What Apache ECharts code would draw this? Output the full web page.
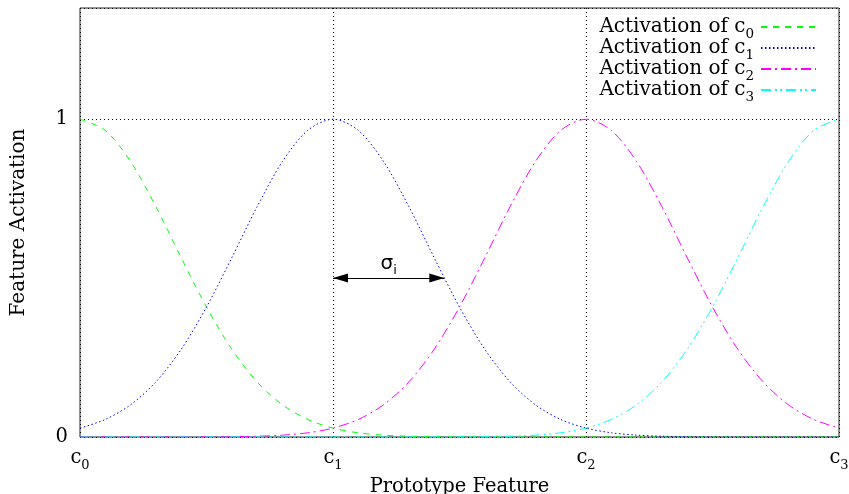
<!DOCTYPE html>
<html>
<head>
<meta charset="utf-8">
<script src="https://cdn.jsdelivr.net/npm/echarts@6/dist/echarts.min.js"></script>
<style>html,body{margin:0;padding:0;background:#fff}#c{width:849px;height:494px}</style>
</head>
<body>
<div id="c"></div>
<script>
// sample positions along the prototype-feature axis
const xs = [0,0.1,0.2,0.3,0.4,0.5,0.6,0.7,0.8,0.9,1,1.1,1.2,1.3,1.4,1.5,1.6,1.7,1.8,1.9,2,2.1,2.2,2.3,2.4,2.5,2.6,2.7,2.8,2.9,3];
const act0 = [1,.9649,.8667,.7248,.5643,.4090,.2760,.1734,.1014,.0552,.0280,.0132,.0058,.0024,.0009,.0003,.0001,0,0,0,0,0,0,0,0,0,0,0,0,0,0];
const act1 = [.0280,.0552,.1014,.1734,.2760,.4090,.5643,.7248,.8667,.9649,1,.9649,.8667,.7248,.5643,.4090,.2760,.1734,.1014,.0552,.0280,.0132,.0058,.0024,.0009,.0003,.0001,0,0,0,0];
const act2 = [0,0,0,0,.0001,.0003,.0009,.0024,.0058,.0132,.0280,.0552,.1014,.1734,.2760,.4090,.5643,.7248,.8667,.9649,1,.9649,.8667,.7248,.5643,.4090,.2760,.1734,.1014,.0552,.0280];
const act3 = [0,0,0,0,0,0,0,0,0,0,0,0,0,0,.0001,.0003,.0009,.0024,.0058,.0132,.0280,.0552,.1014,.1734,.2760,.4090,.5643,.7248,.8667,.9649,1];
const xTickLabels = ['0','1','2','3'];   // subscripts of c
const yTickLabels = ['0','1'];
const seriesNames = ['Activation of c0','Activation of c1','Activation of c2','Activation of c3'];
const sigmaFrom = [1, 0.5];
const sigmaTo = [1.44, 0.5];

const SERIF = '"DejaVu Serif", serif';
const colors = ['#00ff00','#0000ff','#ff00ff','#00ffff'];
const dashes = [[6,6],[1.5,2.5],[10,4,2,4],[10,4,2,3,2,4]];
const values = [act0, act1, act2, act3];

const subRich = {
  n: {fontFamily: SERIF, fontSize: 19.5, color: '#000', lineHeight: 28, verticalAlign: 'middle'},
  s: {fontFamily: SERIF, fontSize: 13, color: '#000', lineHeight: 28, verticalAlign: 'bottom'}
};
const legendRich = {
  n: {fontFamily: SERIF, fontSize: 20, color: '#000', lineHeight: 28, verticalAlign: 'middle'},
  s: {fontFamily: SERIF, fontSize: 13.5, color: '#000', lineHeight: 28, verticalAlign: 'bottom'}
};

const series = values.map((v, k) => ({
  name: seriesNames[k],
  type: 'line',
  data: xs.map((x, i) => [x, v[i]]),
  smooth: 0.3,
  symbol: 'none',
  silent: true,
  lineStyle: {color: colors[k], width: 1, type: dashes[k]},
  itemStyle: {color: colors[k]}
}));

series.push({
  name: 'sigma',
  type: 'line',
  data: [],
  silent: true,
  markLine: {
    silent: true,
    animation: false,
    symbol: ['triangle', 'triangle'],
    symbolSize: [9, 15],
    symbolOffset: [[0, 7.5], [0, 7.5]],
    lineStyle: {color: '#000', width: 1, type: 'solid'},
    emphasis: {disabled: true},
    label: {
      show: true,
      position: 'middle',
      distance: 1,
      formatter: '{g|σ}{i|i}',
      rich: {
        g: {fontFamily: '"DejaVu Sans", sans-serif', fontSize: 20, color: '#000', lineHeight: 26, verticalAlign: 'middle'},
        i: {fontFamily: '"DejaVu Sans", sans-serif', fontSize: 13, color: '#000', lineHeight: 26, verticalAlign: 'bottom'}
      }
    },
    data: [[{coord: sigmaFrom}, {coord: sigmaTo}]]
  }
});

const chart = echarts.init(document.getElementById('c'), null, {renderer: 'canvas'});
chart.setOption({
  animation: false,
  backgroundColor: '#fff',
  grid: {left: 80, top: 8, width: 759, height: 429, outerBoundsMode: 'none', containLabel: false, show: true, borderColor: '#222', borderWidth: 1, backgroundColor: 'transparent'},
  legend: {
    data: seriesNames,
    orient: 'vertical',
    align: 'right',
    right: 22,
    top: 15,
    padding: [2, 10, 2, 12],
    itemGap: -3,
    itemWidth: 55,
    itemHeight: 14,
    backgroundColor: '#fff',
    selectedMode: false,
    itemStyle: {opacity: 0},
    formatter: name => '{n|Activation of c}{s|' + name.slice(-1) + '}',
    textStyle: {rich: legendRich, padding: [0, 2, 0, 0]}
  },
  xAxis: {
    type: 'value', min: 0, max: 3, interval: 1,
    name: 'Prototype Feature', nameLocation: 'middle', nameGap: 37,
    nameTextStyle: {fontFamily: SERIF, fontSize: 19.5, color: '#000'},
    axisLine: {show: false}, axisTick: {show: false},
    axisLabel: {
      margin: 7,
      formatter: v => '{n|c}{s|' + xTickLabels[Math.round(v)] + '}',
      rich: subRich
    },
    splitLine: {show: true, lineStyle: {color: '#000', width: 1, type: [1, 3]}}
  },
  yAxis: {
    type: 'value', min: 0, max: 1.35, interval: 1,
    name: 'Feature Activation', nameLocation: 'middle', nameGap: 51,
    nameTextStyle: {fontFamily: SERIF, fontSize: 20, color: '#000'},
    axisLine: {show: false}, axisTick: {show: false},
    axisLabel: {
      margin: 12, fontFamily: SERIF, fontSize: 19.5, color: '#000',
      formatter: v => (Math.abs(v - Math.round(v)) < 1e-9 && yTickLabels.indexOf(String(Math.round(v))) >= 0) ? String(Math.round(v)) : ''
    },
    splitLine: {show: true, lineStyle: {color: '#000', width: 1, type: [1, 3]}}
  },
  series: series
});
</script>
</body>
</html>
